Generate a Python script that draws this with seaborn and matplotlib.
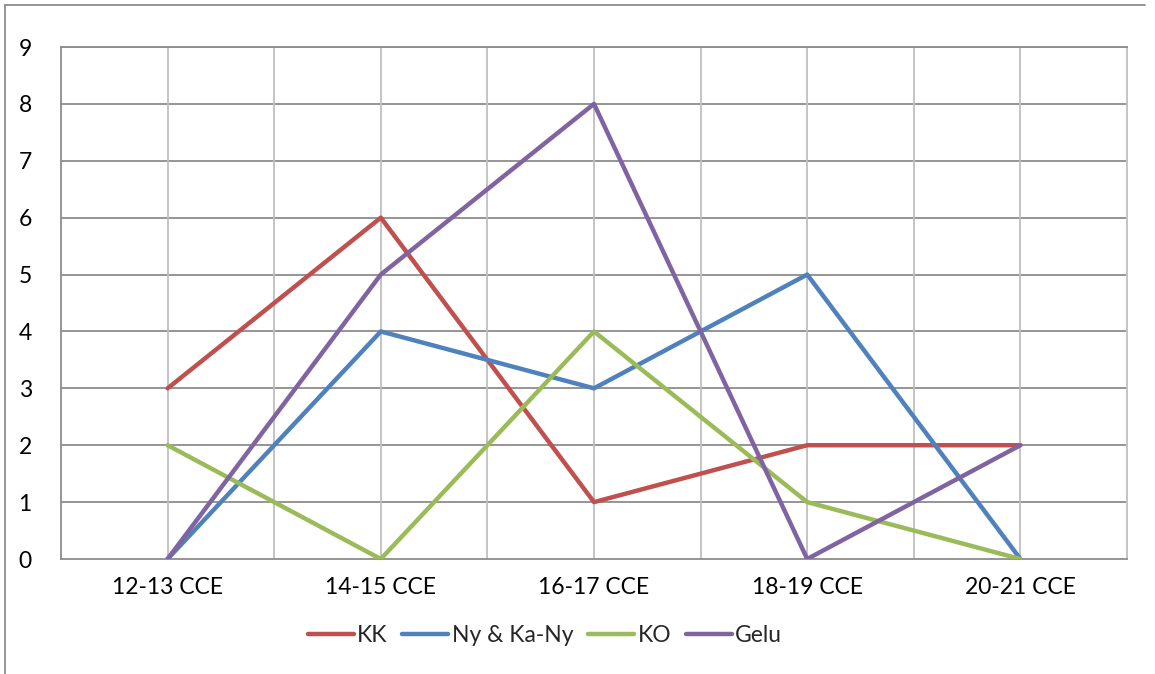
import matplotlib
matplotlib.use("Agg")
import matplotlib.pyplot as plt
from matplotlib.lines import Line2D
import seaborn as sns
import pandas as pd

periods = ["12-13 CCE", "14-15 CCE", "16-17 CCE", "18-19 CCE", "20-21 CCE"]
kk = [3, 6, 1, 2, 2]
ny_ka_ny = [0, 4, 3, 5, 0]
ko = [2, 0, 4, 1, 0]
gelu = [0, 5, 8, 0, 2]

series_names = ["KK", "Ny & Ka-Ny", "KO", "Gelu"]
series_values = [kk, ny_ka_ny, ko, gelu]
colors = ["#C0504D", "#4F81BD", "#9BBB59", "#8064A2"]

rows = []
for name, vals in zip(series_names, series_values):
    for i, v in enumerate(vals):
        rows.append({"pos": i, "value": v, "series": name})
df = pd.DataFrame(rows)

sns.set_theme(style="white")
plt.rcParams["font.family"] = ["Lato", "DejaVu Sans"]

fig = plt.figure(figsize=(11.55, 6.74), dpi=100)
ax = fig.add_axes([61 / 1155, 1 - 559 / 674, (1127 - 61) / 1155, (559 - 47) / 674])

sns.lineplot(data=df, x="pos", y="value", hue="series", hue_order=series_names,
             palette=colors, linewidth=3.2, ax=ax, legend=False, zorder=3)

ax.set_xlim(-0.5, len(periods) - 0.5)
ax.set_ylim(0, 9)
ax.set_xticks(range(len(periods)))
ax.set_xticklabels(periods)
ax.set_yticks(range(0, 10))
ax.set_xlabel("")
ax.set_ylabel("")

# grid: horizontal at each unit, vertical at every half category
for y in range(1, 10):
    ax.axhline(y, color="#8c8c8c", linewidth=1.3, zorder=1)
for x in [i * 0.5 - 0.5 for i in range(1, 2 * len(periods))]:
    ax.axvline(x, color="#bfbfbf", linewidth=1.3, zorder=1)

for side in ["top", "right"]:
    ax.spines[side].set_visible(True)
ax.spines["left"].set_color("#8c8c8c")
ax.spines["bottom"].set_color("#8c8c8c")
ax.spines["right"].set_color("#bfbfbf")
ax.spines["top"].set_color("#8c8c8c")
for sp in ax.spines.values():
    sp.set_linewidth(1.3)

ax.tick_params(axis="both", length=0, labelsize=16.5, colors="black")
ax.tick_params(axis="x", pad=13)
ax.tick_params(axis="y", pad=21)

handles = [Line2D([0], [0], color=c, linewidth=3.2, solid_capstyle="round") for c in colors]
fig.legend(handles, series_names, loc="center", bbox_to_anchor=(545 / 1155, 1 - 636 / 674),
           ncol=4, frameon=False, fontsize=16.5, handlelength=2.0, handletextpad=0.15,
           columnspacing=0.65)

# outer frame (left and top edges)
fig.add_artist(Line2D([5 / 1155, 5 / 1155], [0, 1 - 5 / 674], transform=fig.transFigure,
                      color="#8c8c8c", linewidth=1.3))
fig.add_artist(Line2D([5 / 1155, 1145 / 1155], [1 - 5 / 674, 1 - 5 / 674],
                      transform=fig.transFigure, color="#8c8c8c", linewidth=1.3))

fig.savefig("out.png", dpi=100)
